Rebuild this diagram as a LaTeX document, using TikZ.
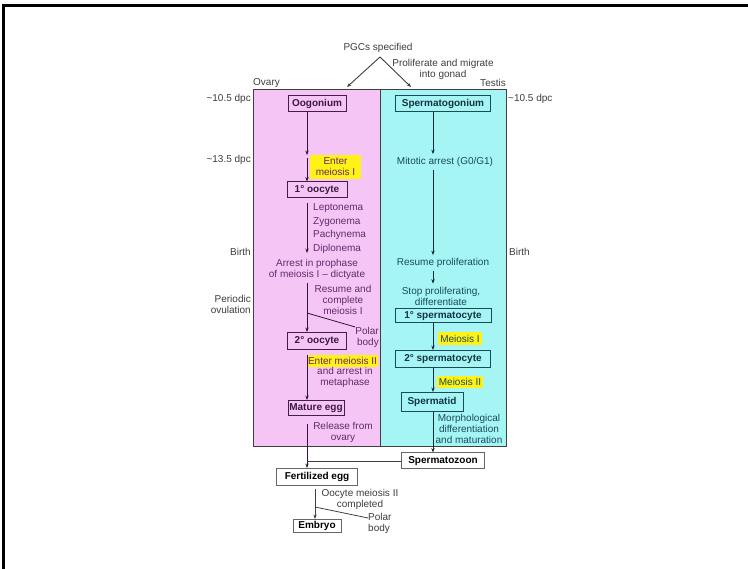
\documentclass[tikz,border=0pt]{standalone}
\usepackage{fontspec}
\setmainfont{Liberation Sans}
\usetikzlibrary{arrows.meta}
\definecolor{ovarypink}{RGB}{245,198,245}
\definecolor{testiscyan}{RGB}{165,245,245}
\definecolor{ovaryink}{RGB}{100,40,105}
\definecolor{testisink}{RGB}{25,75,90}
\definecolor{meiosisyellow}{RGB}{255,242,20}
\definecolor{sideink}{RGB}{60,60,60}
\newcommand{\dpc}[1]{\textasciitilde#1 dpc}
\newcommand{\txtsize}[0]{\fontsize{10}{11}\selectfont}

\begin{document}
\begin{tikzpicture}[x=1pt, y=-1pt, font=\txtsize]
  \tikzset{
    cell/.style={draw, line width=1pt, font=\txtsize\bfseries, inner sep=0pt},
    ovarycell/.style={cell, draw=ovaryink!70!black, text=ovaryink!60!black},
    testiscell/.style={cell, draw=testisink, text=testisink!70!black},
    outcell/.style={cell, draw=black!60, fill=white, text=black},
    note/.style={inner sep=0pt, align=center},
    hilite/.style={fill=meiosisyellow, inner sep=0pt, align=center},
    flow/.style={-{Stealth[length=4.5pt,width=3.4pt]}, line width=0.9pt}
  }
  \useasboundingbox (0,0) rectangle (748,569);
  \draw[line width=2.6pt] (3.3,569) -- (3.3,5.7) -- (748,5.7);

  \fill[ovarypink] (253,89) rectangle (380,446);
  \fill[testiscyan] (380,89) rectangle (506,446);
  \draw[line width=0.9pt, black!75] (253,89) rectangle (506,446) (380,89) -- (380,446);

  \coordinate (ocol) at (307,0);
  \coordinate (tcol) at (433,0);
  \coordinate (ecol) at (315,0);

  \node[note, text=sideink] (pgc) at (378,48) {PGCs specified};
  \coordinate (split) at (380,57);
  \coordinate (toovary) at (347,87);
  \coordinate (totestis) at (411,87);
  \draw[flow, sideink] (split) -- (toovary);
  \draw[flow, sideink] (split) -- (totestis);
  \node[note, text=sideink] (migrate) at (443,69) {Proliferate and migrate\\into gonad};
  \node[note, text=sideink, anchor=west] (ovary) at (253,83) {Ovary};
  \node[note, text=sideink, anchor=east] (testis) at (506,83) {Testis};
  \node[note, text=sideink, anchor=east] (dpcOL) at (251,99) {\dpc{10.5}};
  \node[note, text=sideink, anchor=west] (dpcTL) at (508,99) {\dpc{10.5}};
  \node[note, text=sideink, anchor=east] (dpcOM) at (251,160) {\dpc{13.5}};
  \node[note, text=sideink, anchor=east] (birthO) at (251,252) {Birth};
  \node[note, text=sideink, anchor=west] (birthT) at (509,252) {Birth};
  \node[note, text=sideink, anchor=east, align=right] (ovulation) at (251,304) {Periodic\\ovulation};

  \node[ovarycell, minimum width=58pt, minimum height=16pt] (oog) at (317,104) {Oogonium};
  \coordinate (enterpt) at (307,156);
  \node[hilite, text=ovaryink, minimum width=51pt, minimum height=24pt] (enterI) at (335.5,167) {Enter\\meiosis I};
  \node[ovarycell, minimum width=60pt, minimum height=16pt] (oo1) at (317,190) {1° oocyte};
  \coordinate (diplo) at (307,253);
  \node[note, text=ovaryink, anchor=west, align=left, font=\fontsize{10}{13.5}\selectfont] (stages) at (313,228.5) {Leptonema\\Zygonema\\Pachynema\\Diplonema};
  \node[note, text=ovaryink] (arrest) at (317,269.5) {Arrest in prophase\\of meiosis I – dictyate};
  \node[note, text=ovaryink] (resume) at (343,300) {Resume and\\complete\\meiosis I};
  \coordinate (pbI) at (307,313);
  \node[note, text=ovaryink, anchor=north east, align=right] (polarI) at (379,327) {Polar\\body};
  \node[ovarycell, minimum width=59pt, minimum height=17pt] (oo2) at (317,341) {2° oocyte};
  \node[hilite, text=ovaryink, minimum width=71pt, minimum height=12pt] (enterII) at (342.5,361) {Enter meiosis II};
  \node[note, text=ovaryink] (metaphase) at (345,377) {and arrest in\\metaphase};
  \node[ovarycell, minimum width=56pt, minimum height=15pt] (egg) at (316,408) {Mature egg};
  \node[note, text=ovaryink] (release) at (343,432) {Release from\\ovary};

  \node[outcell, minimum width=81pt, minimum height=17pt] (fert) at (317,477) {Fertilized egg};
  \node[note, text=sideink] (completed) at (360,499.5) {Oocyte meiosis II\\completed};
  \coordinate (pbII) at (315,507);
  \node[note, text=sideink, anchor=north west, align=left] (polarII) at (368,513) {Polar\\body};
  \node[outcell, minimum width=48pt, minimum height=13pt] (embryo) at (317,526) {Embryo};

  \node[testiscell, minimum width=95pt, minimum height=16pt] (sg) at (443,104) {Spermatogonium};
  \node[note, text=testisink] (mitotic) at (445,162) {Mitotic arrest (G0/G1)};
  \node[note, text=testisink] (prolif) at (443,263) {Resume proliferation};
  \node[note, text=testisink] (stop) at (441,296) {Stop proliferating,\\differentiate};
  \node[testiscell, minimum width=96pt, minimum height=14pt] (sc1) at (443,316) {1° spermatocyte};
  \node[hilite, text=testisink, minimum width=44pt, minimum height=13pt] (meiI) at (460,338.5) {Meiosis I};
  \node[testiscell, minimum width=95pt, minimum height=17pt] (sc2) at (443,359) {2° spermatocyte};
  \node[hilite, text=testisink, minimum width=46pt, minimum height=12pt] (meiII) at (460,382) {Meiosis II};
  \node[testiscell, minimum width=62pt, minimum height=19pt] (tid) at (432,402) {Spermatid};
  \node[note, text=testisink] (morph) at (469,429) {Morphological\\differentiation\\and maturation};
  \node[outcell, minimum width=83pt, minimum height=16pt] (zoon) at (443,461) {Spermatozoon};

  \draw[flow, ovaryink!50!black] (oog.south -| ocol) -- ([yshift=1pt]enterpt);
  \draw[flow, ovaryink!50!black] ([yshift=-2pt]enterpt) -- (oo1.north -| ocol);
  \draw[flow, ovaryink!50!black] ([yshift=-5pt]oo1.south -| ocol) -- (diplo);
  \draw[flow, ovaryink!50!black] ([yshift=-3pt]arrest.south -| ocol) -- (oo2.north -| ocol);
  \draw[ovaryink!50!black, line width=0.8pt] (pbI) -- (polarI.north west);
  \draw[flow, ovaryink!50!black] ([yshift=-5pt]oo2.south -| ocol) -- (egg.north -| ocol);
  \draw[flow, ovaryink!50!black] ([yshift=-8pt]egg.south -| ocol) -- (fert.north -| ocol);
  \draw[line width=0.9pt, black!75] (zoon.west) -- (zoon.west -| ocol);
  \draw[flow, black!75] ([yshift=-3pt]fert.south -| ecol) -- (embryo.north -| ecol);
  \draw[black!75, line width=0.8pt] (pbII) -- ([yshift=-5pt]polarII.north west);

  \draw[flow, testisink!60!black] (sg.south -| tcol) -- ([yshift=3pt]mitotic.north -| tcol);
  \draw[flow, testisink!60!black] ([yshift=-3pt]mitotic.south -| tcol) -- ([yshift=3pt]prolif.north -| tcol);
  \draw[flow, testisink!60!black] ([yshift=-3pt]prolif.south -| tcol) -- ([yshift=3pt]stop.north -| tcol);
  \draw[flow, testisink!60!black] (sc1.south -| tcol) -- (sc2.north -| tcol);
  \draw[flow, testisink!60!black] (sc2.south -| tcol) -- (tid.north -| tcol);
  \draw[flow, testisink!60!black] (tid.south -| tcol) -- (zoon.north -| tcol);
\end{tikzpicture}
\end{document}
